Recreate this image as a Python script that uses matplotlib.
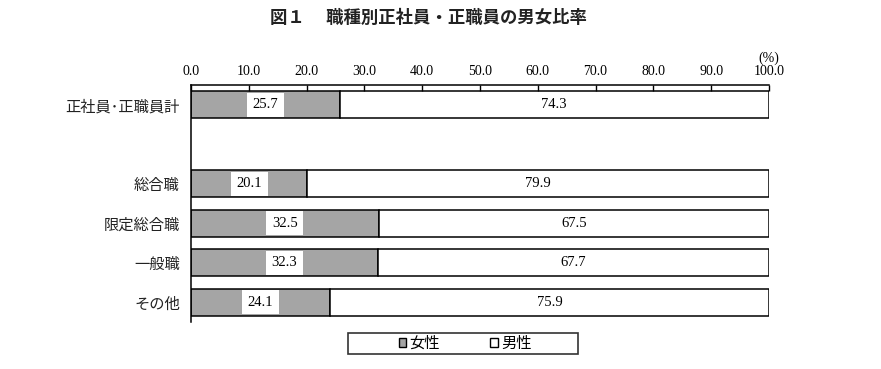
import numpy as np
import matplotlib.pyplot as plt
from matplotlib.patches import Patch, Rectangle

plt.rcParams['font.family'] = ['Noto Sans CJK JP', 'DejaVu Sans']

categories = ['正社員･正職員計', '総合職', '限定総合職', '一般職', 'その他']
positions = [0, 2, 3, 4, 5]
female = [25.7, 20.1, 32.5, 32.3, 24.1]
male = [74.3, 79.9, 67.5, 67.7, 75.9]
ticks = np.arange(0, 101, 10)

num_font = 'Liberation Serif'
grey = '#a5a5a5'

fig = plt.figure(figsize=(8.81, 3.69), dpi=100)
ax = fig.add_axes([0.2168, 0.1274, 0.8729 - 0.2168, 0.7696 - 0.1274])

h = 0.68
ax.barh(positions, female, height=h, color=grey, edgecolor='black', linewidth=1.1)
ax.barh(positions, male, left=female, height=h, color='white', edgecolor='black', linewidth=1.1)

# white patch behind the female value, inside the bar edges
box_w = 6.4
ax.barh(positions, box_w, left=np.array(female) / 2 - box_w / 2, height=h - 0.06,
        color='white', edgecolor='none')

for y, f, m in zip(positions, female, male):
    ax.text(f / 2, y, f'{f:.1f}', ha='center', va='center', fontsize=10.5, family=num_font)
    ax.text(f + m / 2, y, f'{m:.1f}', ha='center', va='center', fontsize=10.5, family=num_font)

ax.set_xlim(0, 100)
ax.set_ylim(5.5, -0.5)
ax.set_yticks(positions)
ax.set_yticklabels(categories, fontsize=11, color='#222222')
ax.tick_params(axis='y', length=0, pad=8)
ax.xaxis.tick_top()
ax.set_xticks(ticks)
ax.set_xticklabels([f'{t:.1f}' for t in ticks], family=num_font, fontsize=10)
ax.tick_params(axis='x', direction='in', length=4, width=1, pad=5)
ax.spines['right'].set_visible(False)
ax.spines['bottom'].set_visible(False)
ax.spines['top'].set_linewidth(1.1)
ax.spines['left'].set_linewidth(1.1)

ax.text(1.0, 1.114, '(%)', transform=ax.transAxes, ha='center', va='center',
        fontsize=10, family=num_font)

fig.text(0.486, 0.951, '図１　 職種別正社員・正職員の男女比率', ha='center', va='center',
         fontsize=12.5, fontweight='bold', color='#222222')

# legend with a wide frame drawn by hand
fig.patches.append(Rectangle((348 / 881, 1 - 354 / 369), 230 / 881, 21 / 369,
                             transform=fig.transFigure, fill=False,
                             edgecolor='#333333', linewidth=1.2))
handles = [Patch(facecolor=grey, edgecolor='black', label='女性'),
           Patch(facecolor='white', edgecolor='black', label='男性')]
fig.legend(handles=handles, loc='center', bbox_to_anchor=(0.528, 1 - 343.5 / 369),
           ncol=2, frameon=False, fontsize=11, handlelength=0.5,
           handleheight=0.5, handletextpad=0.2, columnspacing=3.3, borderpad=0.1)

fig.savefig('out.png', dpi=100)
